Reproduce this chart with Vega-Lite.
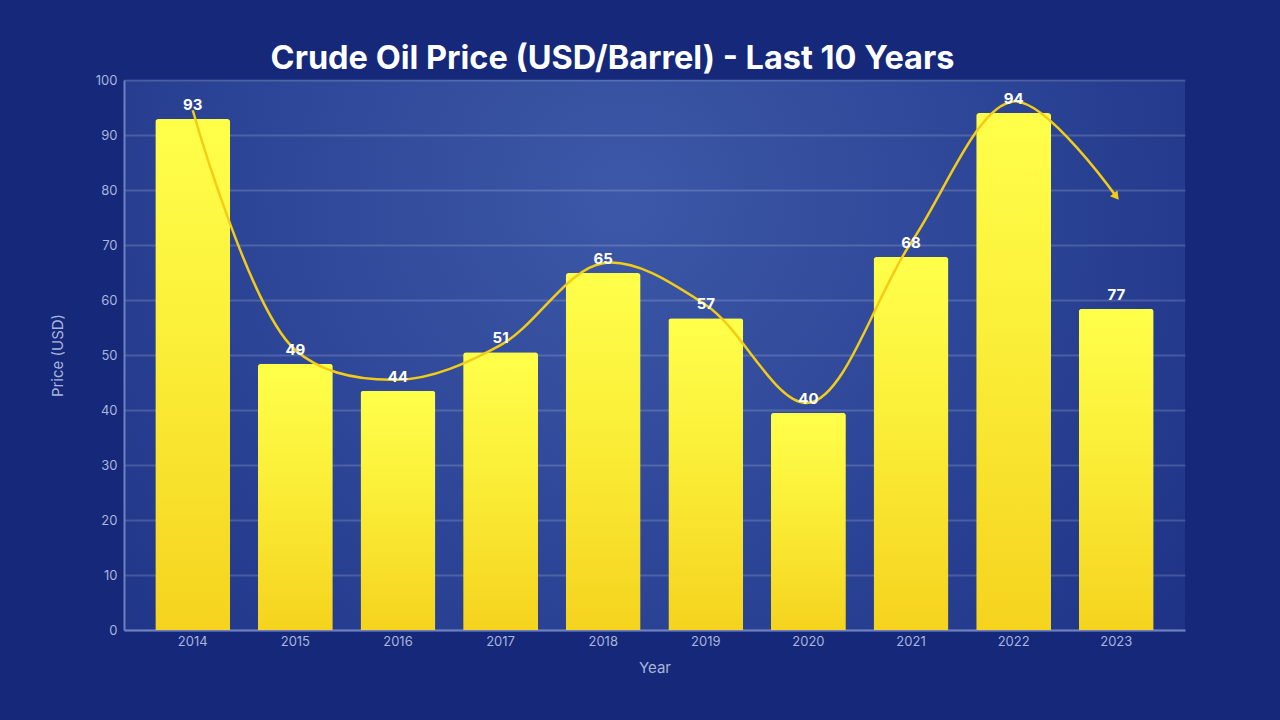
{
  "$schema": "https://vega.github.io/schema/vega-lite/v6.json",
  "autosize": {"type": "none"},
  "width": 1061,
  "height": 550,
  "padding": {"left": 124, "top": 80, "right": 95, "bottom": 90},
  "background": "#15287a",
  "title": {
    "text": "Crude Oil Price (USD/Barrel) - Last 10 Years",
    "font": "Inter",
    "fontSize": 32.5,
    "fontWeight": "bold",
    "color": "#ffffff",
    "anchor": "middle",
    "dx": -42,
    "offset": -1
  },
  "config": {
    "view": {
      "stroke": null,
      "fill": {
        "gradient": "radial",
        "x1": 0.47, "y1": 0.35, "r1": 0,
        "x2": 0.47, "y2": 0.35, "r2": 0.75,
        "stops": [
          {"offset": 0, "color": "#3d58a8"},
          {"offset": 0.5, "color": "#2c4495"},
          {"offset": 1, "color": "#1a2e82"}
        ]
      }
    },
    "axis": {
      "labelFont": "Inter",
      "titleFont": "Inter",
      "labelColor": "#a9b5dc",
      "titleColor": "#a9b5dc",
      "labelFontSize": 13,
      "titleFontSize": 15,
      "titleFontWeight": "normal",
      "ticks": false,
      "domainColor": "#6f80c0",
      "domainWidth": 2,
      "gridColor": "#ffffff",
      "gridOpacity": 0.16,
      "gridWidth": 2
    }
  },
  "data": {
    "values": [
      {"year": "2014", "price": 92.9, "label": 93, "trend": 94.5},
      {"year": "2015", "price": 48.4, "label": 49, "trend": 50.9},
      {"year": "2016", "price": 43.5, "label": 44, "trend": 45.5},
      {"year": "2017", "price": 50.5, "label": 51, "trend": 51.8},
      {"year": "2018", "price": 64.9, "label": 65, "trend": 66.7},
      {"year": "2019", "price": 56.7, "label": 57, "trend": 59.1},
      {"year": "2020", "price": 39.5, "label": 40, "trend": 41.3},
      {"year": "2021", "price": 67.8, "label": 68, "trend": 70.4},
      {"year": "2022", "price": 94.0, "label": 94, "trend": 96.1},
      {"year": "2023", "price": 58.4, "label": 77, "trend": 78.8}
    ]
  },
  "encoding": {
    "x": {
      "field": "year",
      "type": "ordinal",
      "scale": {"paddingInner": 0.27, "paddingOuter": 0.305},
      "axis": {"title": "Year", "labelAngle": 0, "labelPadding": 5, "titlePadding": 12, "grid": false}
    }
  },
  "layer": [
    {
      "mark": {
        "type": "bar",
        "cornerRadiusTopLeft": 3,
        "cornerRadiusTopRight": 3,
        "color": {
          "gradient": "linear",
          "x1": 0, "y1": 0, "x2": 0, "y2": 1,
          "stops": [
            {"offset": 0, "color": "#ffff4a"},
            {"offset": 0.4, "color": "#fbf03a"},
            {"offset": 1, "color": "#f5d31e"}
          ]
        }
      },
      "encoding": {
        "y": {
          "field": "price",
          "type": "quantitative",
          "scale": {"domain": [0, 100], "nice": false},
          "axis": {"title": "Price (USD)", "values": [0,10,20,30,40,50,60,70,80,90,100], "labelPadding": 7, "titlePadding": 30}
        }
      }
    },
    {
      "mark": {"type": "line", "interpolate": "catmull-rom", "color": "#f3cc17", "strokeWidth": 2.5},
      "encoding": {"y": {"field": "trend", "type": "quantitative", "axis": {"title": "Price (USD)", "values": [0,10,20,30,40,50,60,70,80,90,100], "labelPadding": 7, "titlePadding": 30}}}
    },
    {
      "transform": [{"filter": {"field": "year", "equal": "2023"}}],
      "mark": {"type": "point", "shape": "triangle-up", "filled": true, "color": "#f3cc17", "size": 90, "angle": 142, "opacity": 1},
      "encoding": {"y": {"field": "trend", "type": "quantitative", "axis": {"title": "Price (USD)", "values": [0,10,20,30,40,50,60,70,80,90,100], "labelPadding": 7, "titlePadding": 30}}}
    },
    {
      "mark": {"type": "text", "font": "Inter", "fontSize": 15, "fontWeight": "bold", "color": "#ffffff", "dy": -14},
      "encoding": {
        "y": {"field": "price", "type": "quantitative", "axis": {"title": "Price (USD)", "values": [0,10,20,30,40,50,60,70,80,90,100], "labelPadding": 7, "titlePadding": 30}},
        "text": {"field": "label", "type": "quantitative"}
      }
    }
  ]
}
